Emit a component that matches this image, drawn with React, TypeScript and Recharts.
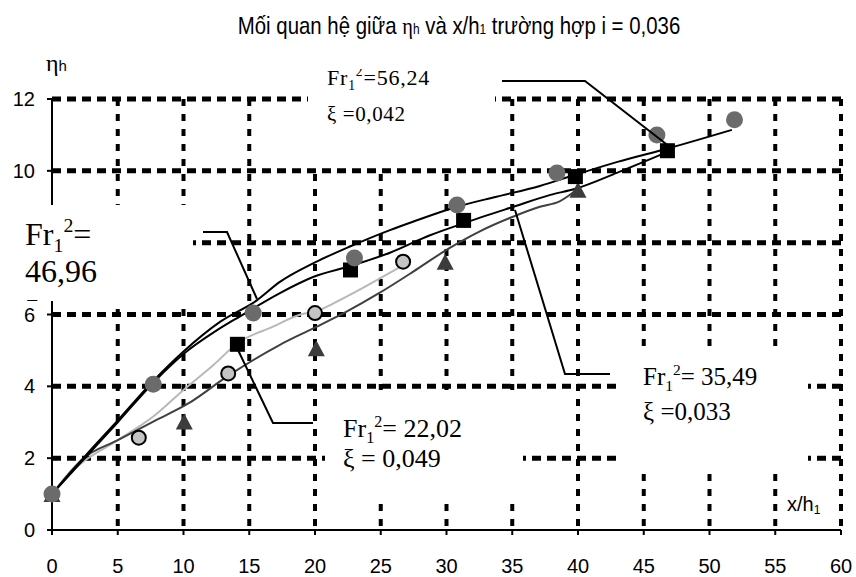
import React from 'react';
import { ComposedChart, Line, Scatter, XAxis, YAxis, CartesianGrid } from 'recharts';

// axis ticks
const xTicks = [0, 5, 10, 15, 20, 25, 30, 35, 40, 45, 50, 55, 60];
const yTicks = [0, 2, 4, 6, 8, 10, 12];
const xGrid = [5, 10, 15, 20, 25, 30, 35, 40, 45, 50, 55, 60];
const yGrid = [2, 4, 6, 8, 10, 12];

// measured points [x/h1, eta_h]
const fr5624Points = [[0, 1], [7.7, 4.06], [15.3, 6.04], [23.0, 7.57], [30.8, 9.05], [38.4, 9.94], [46.0, 11.0], [51.9, 11.42]];
const fr4696Points = [[14.1, 5.17], [22.7, 7.24], [31.3, 8.62], [39.8, 9.84], [46.8, 10.56]];
const fr3549Points = [[0, 1], [10.06, 3.02], [20.1, 5.06], [29.9, 7.47], [40.0, 9.47]];
const fr2202Points = [[6.6, 2.57], [13.4, 4.36], [20.0, 6.04], [26.7, 7.47]];

// smoothed curves
const fr5624Curve = [[0, 1], [2.5, 2.05], [5, 3.05], [7.7, 4.15], [10, 4.97], [12.8, 5.8], [15.6, 6.4], [17.3, 6.9], [20, 7.45], [22.7, 7.9], [25.7, 8.35], [27.5, 8.59], [30.8, 9.0], [33.8, 9.28], [37.1, 9.58], [39.8, 9.89], [43, 10.25], [46.9, 10.63], [51.7, 11.14]];
const fr4696Curve = [[0, 1], [2.5, 2.0], [5, 3.0], [7.7, 4.1], [10, 4.9], [12.5, 5.55], [14.3, 5.95], [17.3, 6.59], [19.9, 7.05], [22.7, 7.35], [25.7, 7.72], [28.7, 8.2], [31.3, 8.54], [35.1, 9.0], [37.9, 9.33], [39.8, 9.5], [43, 9.95], [46.9, 10.54]];
const fr3549Curve = [[0, 1], [2.4, 2.0], [5, 2.5], [7.7, 3.02], [10.4, 3.53], [13.3, 4.27], [17.3, 5.15], [19.9, 5.62], [22.4, 6.08], [24.9, 6.6], [27.5, 7.2], [30, 7.8], [32.5, 8.31], [35.1, 8.73], [37.1, 9.0], [38.6, 9.15], [40, 9.5]];
const fr2202Curve = [[0, 1], [1.9, 1.76], [5, 2.5], [7.7, 3.16], [10, 3.9], [12.3, 4.6], [14.1, 5.2], [16.8, 5.66], [18.9, 6.0], [20, 6.08], [22.4, 6.5], [24.9, 7.0], [26.5, 7.33]];

const rows = (pts: number[][]) => pts.map(([x, y]) => ({ x, y }));

const SANS = "'Liberation Sans', Arial, sans-serif";
const SERIF = "'Liberation Serif', 'Times New Roman', serif";

function FrText({ x, y, size, value, spacing = 0 }: { x: number; y: number; size: number; value: string; spacing?: number }) {
  const s = size * 0.62;
  return (
    <text x={x} y={y} fontSize={size} fontFamily={SERIF} fill="#000" letterSpacing={spacing}>
      Fr
      <tspan dy={size * 0.22} fontSize={s}>1</tspan>
      <tspan dy={-size * 0.62} fontSize={s}>2</tspan>
      <tspan dy={size * 0.4}>{value}</tspan>
    </text>
  );
}

function Notes() {
  return (
    <svg width={856} height={577} style={{ position: 'absolute', left: 0, top: 0, pointerEvents: 'none' }}>
      <defs>
        <clipPath id="clip46">
          <rect x={10} y={200} width={190} height={101} />
        </clipPath>
        <clipPath id="clip56">
          <rect x={300} y={69} width={200} height={100} />
        </clipPath>
      </defs>
      {/* title, condensed like the original */}
      <text transform="translate(459,34) scale(0.85,1)" textAnchor="middle" fontSize={24} fontFamily={SANS} fill="#000">
        Mối quan hệ giữa <tspan fontFamily={SERIF}>η</tspan><tspan fontSize={14}>h</tspan> và x/h<tspan fontSize={14}>1</tspan> trường hợp i = 0,036
      </text>
      <text x={46} y={71} fontSize={24} fontFamily={SERIF} fill="#000">
        η<tspan fontSize={15} fontFamily={SANS}>h</tspan>
      </text>
      <text x={787} y={511} fontSize={20} fontFamily={SANS} fill="#000">
        x/h<tspan dy={3} fontSize={12}>1</tspan>
      </text>

      {/* white label boxes */}
      <rect x={308} y={56} width={187} height={112} fill="#fff" />
      <rect x={12} y={205} width={181} height={96} fill="#fff" />
      <rect x={325} y={390} width={198} height={107} fill="#fff" />
      <rect x={618} y={349} width={190} height={122} fill="#fff" />

      <g clipPath="url(#clip56)">
        <FrText x={327} y={85} size={22} value="=56,24" spacing={0.8} />
      </g>
      <text x={327} y={121} fontSize={21} fontFamily={SERIF} fill="#000" letterSpacing={0.6}>ξ =0,042</text>

      <FrText x={25} y={245} size={32} value="=" />
      <text x={25} y={282} fontSize={32} fontFamily={SERIF} fill="#000">46,96</text>
      <text x={25} y={322} fontSize={32} fontFamily={SERIF} fill="#000" clipPath="url(#clip46)">ξ = 0,037</text>

      <FrText x={343} y={437} size={26} value="= 22,02" />
      <text x={343} y={467} fontSize={26} fontFamily={SERIF} fill="#000">ξ = 0,049</text>

      <FrText x={643} y={385} size={25} value="= 35,49" />
      <text x={643} y={420} fontSize={25} fontFamily={SERIF} fill="#000">ξ =0,033</text>

      {/* leader lines */}
      <polyline points="502,81 585,81 670,147" fill="none" stroke="#000" strokeWidth={2} />
      <polyline points="203,232 227,232 257,299" fill="none" stroke="#000" strokeWidth={2} />
      <polyline points="238,350 273,423 313,423" fill="none" stroke="#000" strokeWidth={2} />
      <polyline points="515,210 565,374 610,374" fill="none" stroke="#000" strokeWidth={2} />
    </svg>
  );
}

const grayDot = (p: any) => <circle cx={p.cx} cy={p.cy} r={8.5} fill="#6b6b6b" />;
const blackSquare = (p: any) => <rect x={p.cx - 7.5} y={p.cy - 7.5} width={15} height={15} fill="#000" />;
const darkTriangle = (p: any) => (
  <polygon points={`${p.cx},${p.cy - 8} ${p.cx + 8.5},${p.cy + 8} ${p.cx - 8.5},${p.cy + 8}`} fill="#3c3c3c" />
);
const lightDot = (p: any) => <circle cx={p.cx} cy={p.cy} r={7} fill="#c4c4c4" stroke="#000" strokeWidth={2} />;

export default function App() {
  return (
    <div style={{ position: 'absolute', left: 0, top: 0, width: 856, height: 577, background: '#fff' }}>
      <ComposedChart width={856} height={577} margin={{ top: 99, right: 15, left: 0, bottom: 0 }}>
        <CartesianGrid horizontal vertical={false} horizontalValues={yGrid} stroke="#000" strokeWidth={5} strokeDasharray="9 6" />
        <CartesianGrid horizontal={false} vertical verticalValues={xGrid} stroke="#000" strokeWidth={4} strokeDasharray="7 8" />
        <XAxis
          type="number"
          dataKey="x"
          domain={[0, 60]}
          ticks={xTicks}
          interval={0}
          height={47}
          tickSize={5}
          tickMargin={24}
          axisLine={{ stroke: '#000', strokeWidth: 2 }}
          tickLine={{ stroke: '#000', strokeWidth: 2 }}
          tick={{ fill: '#000', fontSize: 20, fontFamily: SANS }}
        />
        <YAxis
          type="number"
          domain={[0, 12]}
          ticks={yTicks}
          interval={0}
          width={52}
          tickSize={5}
          tickMargin={12}
          axisLine={{ stroke: '#000', strokeWidth: 2 }}
          tickLine={{ stroke: '#000', strokeWidth: 2 }}
          tick={{ fill: '#000', fontSize: 20, fontFamily: SANS }}
        />
        <Line data={rows(fr2202Curve)} dataKey="y" type="monotone" stroke="#b8b8b8" strokeWidth={2} dot={false} isAnimationActive={false} />
        <Line data={rows(fr3549Curve)} dataKey="y" type="monotone" stroke="#404040" strokeWidth={2} dot={false} isAnimationActive={false} />
        <Line data={rows(fr4696Curve)} dataKey="y" type="monotone" stroke="#000" strokeWidth={2} dot={false} isAnimationActive={false} />
        <Line data={rows(fr5624Curve)} dataKey="y" type="monotone" stroke="#000" strokeWidth={2} dot={false} isAnimationActive={false} />
        <Scatter data={rows(fr2202Points)} dataKey="y" shape={lightDot} isAnimationActive={false} />
        <Scatter data={rows(fr3549Points)} dataKey="y" shape={darkTriangle} isAnimationActive={false} />
        <Scatter data={rows(fr4696Points)} dataKey="y" shape={blackSquare} isAnimationActive={false} />
        <Scatter data={rows(fr5624Points)} dataKey="y" shape={grayDot} isAnimationActive={false} />
      </ComposedChart>
      <Notes />
    </div>
  );
}
